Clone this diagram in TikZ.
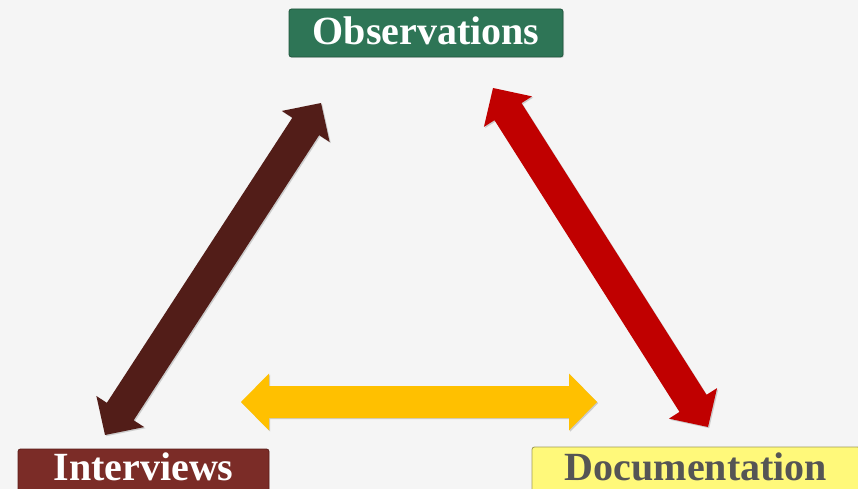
\documentclass[tikz,border=0pt]{standalone}
\usepackage{fontspec}
\setmainfont{Liberation Serif}
\usetikzlibrary{calc,shadows}

\definecolor{paper}{RGB}{245,245,245}
\definecolor{obsgreen}{RGB}{46,117,86}
\definecolor{obsedge}{RGB}{30,85,60}
\definecolor{intbrown}{RGB}{123,44,39}
\definecolor{intedge}{RGB}{90,28,24}
\definecolor{docyellow}{RGB}{255,249,122}
\definecolor{docedge}{RGB}{160,156,84}
\definecolor{doctext}{RGB}{85,85,85}
\definecolor{arrowbrown}{RGB}{82,29,24}
\definecolor{arrowred}{RGB}{192,0,0}
\definecolor{arrowgold}{RGB}{255,192,0}

% Block double arrow between two named points:
% #1 fill options, #2 first tip, #3 second tip
\newcommand{\DoubleHeadArrow}[3]{%
  \coordinate (ha) at ($(#2)!28pt!(#3)$);
  \coordinate (hb) at ($(#3)!28pt!(#2)$);
  \path[#1]
    (#2) -- ($(ha)!28.5pt!90:(#3)$) -- ($(ha)!16pt!90:(#3)$)
    -- ($(hb)!16pt!-90:(#2)$) -- ($(hb)!28.5pt!-90:(#2)$)
    -- (#3) -- ($(hb)!28.5pt!90:(#2)$) -- ($(hb)!16pt!90:(#2)$)
    -- ($(ha)!16pt!-90:(#3)$) -- ($(ha)!28.5pt!-90:(#3)$) -- cycle;
}

\tikzset{
  label box/.style={rectangle, rounded corners=2.5pt, minimum width=#1,
    minimum height=48pt, inner sep=0pt, line width=0.8pt,
    font=\fontsize{40}{40}\selectfont\bfseries, text height=27pt},
  arrow shadow/.style={drop shadow={opacity=0.35, shadow xshift=1.2pt,
    shadow yshift=-1.2pt}},
}

\begin{document}
\begin{tikzpicture}[x=1pt,y=-1pt]
  \useasboundingbox (0,0) rectangle (858,489);
  \fill[paper] (0,0) rectangle (858,489);

  % labels
  \node[label box=274pt, text depth=3pt, fill=obsgreen, draw=obsedge,
        text=white, drop shadow={opacity=0.25, shadow xshift=1pt, shadow yshift=-1pt}]
    (obs) at (426,33) {Observations};
  \node[label box=251pt, text depth=13pt, fill=intbrown, draw=intedge,
        text=white] (int) at (143.5,473) {Interviews};
  \node[label box=328pt, text depth=9pt, fill=docyellow, draw=docedge,
        text=doctext] (doc) at (696,471) {Documentation};

  % arrow tips
  \coordinate (io-a) at (105,435);
  \coordinate (io-b) at (321,103);
  \coordinate (od-a) at (493,88);
  \coordinate (od-b) at (708,427);
  \coordinate (id-a) at (241,402);
  \coordinate (id-b) at (597,402);

  \DoubleHeadArrow{fill=arrowbrown, arrow shadow}{io-a}{io-b}
  \DoubleHeadArrow{fill=arrowred, arrow shadow}{od-a}{od-b}
  \DoubleHeadArrow{fill=arrowgold, arrow shadow}{id-a}{id-b}
\end{tikzpicture}
\end{document}
